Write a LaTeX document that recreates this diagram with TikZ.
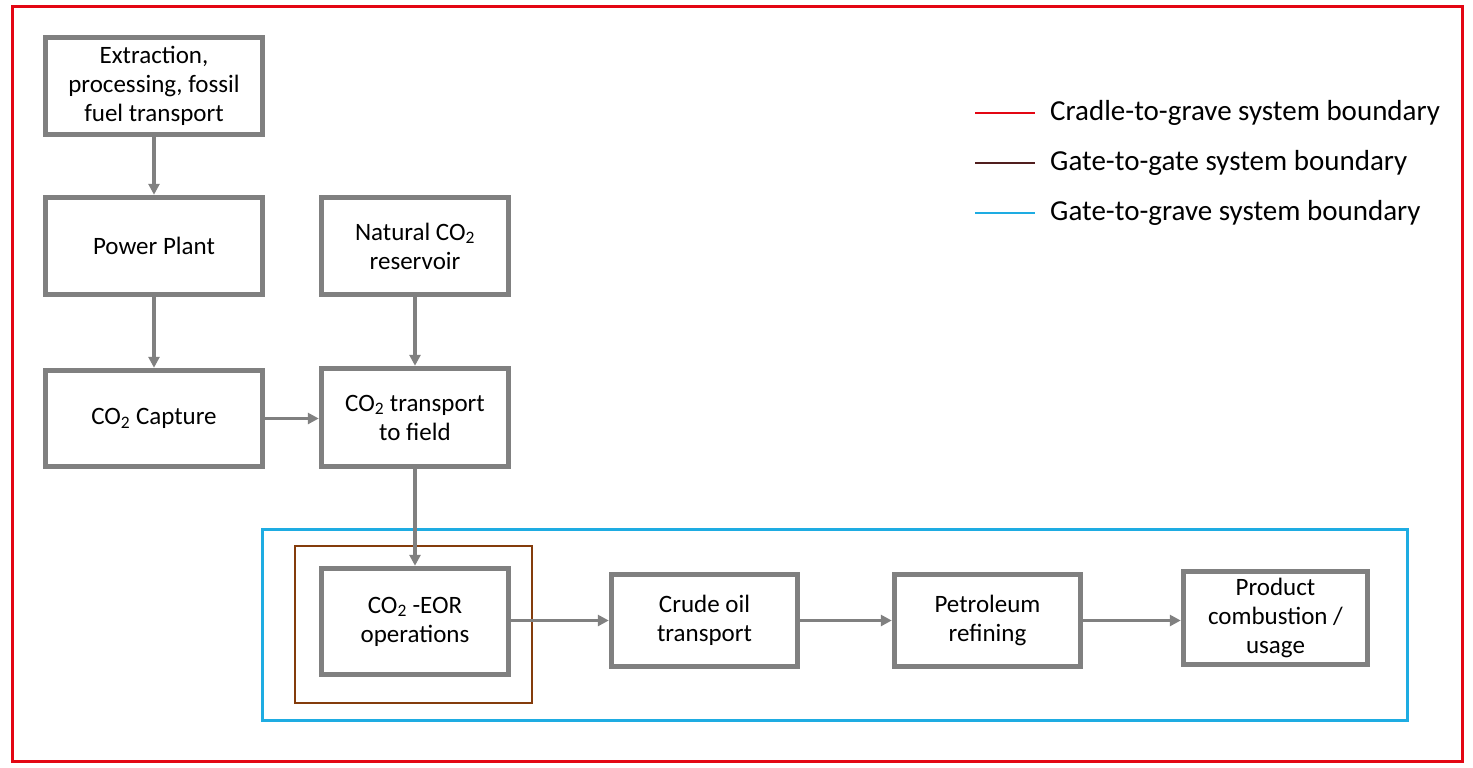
\documentclass[tikz,border=0pt]{standalone}
\usepackage{fontspec}
\setmainfont{Carlito}
\usetikzlibrary{arrows.meta}
\newcommand{\cotwo}{CO\textsubscript{2}}
\definecolor{boxgray}{RGB}{128,128,128}
\definecolor{redb}{RGB}{227,6,19}
\definecolor{brownb}{RGB}{132,60,12}
\definecolor{blueb}{RGB}{30,172,226}
\definecolor{legbrown}{RGB}{80,30,30}
\tikzset{
  procbox/.style={draw=boxgray, line width=5.5pt, fill=white, align=center, inner sep=2pt,
    font=\fontsize{25}{29}\selectfont},
  flow/.style={draw=boxgray, line width=3.5pt, -{Triangle[length=11pt,width=11pt]}},
  legtext/.style={anchor=west, font=\fontsize{29}{32}\selectfont, inner sep=0pt},
}
\begin{document}
\begin{tikzpicture}[x=1pt,y=-1pt]
\useasboundingbox (0,0) rectangle (1473,768);
\fill[white] (0,0) rectangle (1473,768);
% boundaries
\draw[redb, line width=3pt] (12,7) rectangle (1462,761);
\draw[blueb, line width=3pt] (262,529) rectangle (1407,720);
\draw[brownb, line width=2.5pt] (295,546) rectangle (532,703);
% nodes
\node[procbox, minimum width=217pt, minimum height=97pt] (ext) at (154,86) {Extraction,\\processing, fossil\\fuel transport};
\node[procbox, minimum width=217pt, minimum height=97pt] (pp) at (154,246) {Power Plant};
\node[procbox, minimum width=217pt, minimum height=96pt] (cap) at (154,418.5) {\cotwo{} Capture};
\node[procbox, minimum width=187pt, minimum height=97pt] (nat) at (415,246) {Natural \cotwo\\reservoir};
\node[procbox, minimum width=187pt, minimum height=98pt] (trans) at (415,417.5) {\cotwo{} transport\\to field};
\node[procbox, minimum width=187pt, minimum height=106pt] (eor) at (415,621.5) {\cotwo{} -EOR\\operations};
\node[procbox, minimum width=186pt, minimum height=92pt] (crude) at (704.5,620.5) {Crude oil\\transport};
\node[procbox, minimum width=186pt, minimum height=92pt] (pet) at (987.5,620.5) {Petroleum\\refining};
\node[procbox, minimum width=184pt, minimum height=93pt] (prod) at (1275.5,618) {Product\\combustion /\\usage};
% flows
\draw[flow] (ext.south) -- (pp.north);
\draw[flow] (pp.south) -- (cap.north);
\draw[flow] (cap.east) -- (trans.west |- cap.east);
\draw[flow] (nat.south) -- (trans.north);
\draw[flow] (trans.south) -- (eor.north);
\draw[flow] (eor.east |- crude.west) -- (crude.west);
\draw[flow] (crude.east) -- (pet.west);
\draw[flow] (pet.east) -- (prod.west |- pet.east);
% legend
\coordinate (l1a) at (975,113); \coordinate (l1b) at (1035,113);
\coordinate (l2a) at (975,163); \coordinate (l2b) at (1035,163);
\coordinate (l3a) at (975,213); \coordinate (l3b) at (1035,213);
\draw[redb, line width=2.5pt] (l1a) -- (l1b);
\draw[legbrown, line width=2.5pt] (l2a) -- (l2b);
\draw[blueb, line width=2.5pt] (l3a) -- (l3b);
\node[legtext] (t1) at (1050,113) {Cradle-to-grave system boundary};
\node[legtext] (t2) at (1050,163) {Gate-to-gate system boundary};
\node[legtext] (t3) at (1050,213) {Gate-to-grave system boundary};
\end{tikzpicture}
\end{document}
